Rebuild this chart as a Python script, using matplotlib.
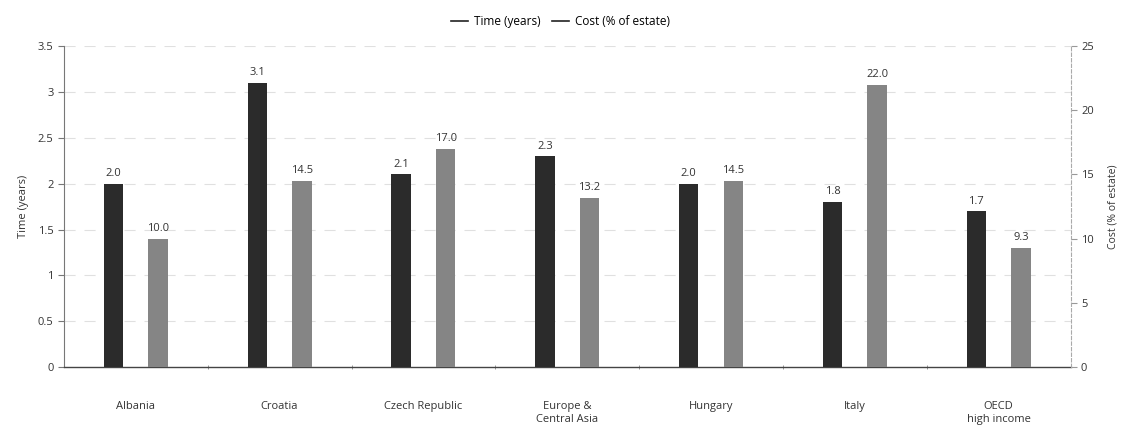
import matplotlib
matplotlib.use("Agg")
import matplotlib.pyplot as plt
from matplotlib.lines import Line2D
import numpy as np

plt.rcParams['font.family'] = ['Open Sans', 'DejaVu Sans']

categories = ["Albania", "Croatia", "Czech Republic", "Europe &\nCentral Asia",
              "Hungary", "Italy", "OECD\nhigh income"]
time_years = [2.0, 3.1, 2.1, 2.3, 2.0, 1.8, 1.7]
cost_pct = [10.0, 14.5, 17.0, 13.2, 14.5, 22.0, 9.3]
left_ticks = [0, 0.5, 1, 1.5, 2, 2.5, 3, 3.5]
left_ticklabels = ["0", "0.5", "1", "1.5", "2", "2.5", "3", "3.5"]
right_ticks = [0, 5, 10, 15, 20, 25]

fig = plt.figure(figsize=(11.21, 4.26), dpi=100)
ax = fig.add_axes([0.057, 0.138, 0.898, 0.754])
ax2 = ax.twinx()

x = np.arange(len(categories))
w = 0.135
off = 0.155
dark = "#2b2b2b"
grey = "#858585"
txt = "#333333"

ax.set_ylim(0, 3.5)
ax2.set_ylim(0, 25)
ax.set_xlim(-0.5, len(categories) - 0.5)

for yv in left_ticks[1:]:
    ax.axhline(yv, color="#e0e0e0", lw=0.8, ls=(0, (10, 8)), zorder=0)

ax.bar(x - off, time_years, width=w, color=dark, zorder=3)
ax2.bar(x + off, cost_pct, width=w, color=grey, zorder=3)

for xi, v in zip(x, time_years):
    ax.text(xi - off, v + 0.05, f"{v:.1f}", ha="center", va="bottom",
            fontsize=8, color=txt)
for xi, v in zip(x, cost_pct):
    ax2.text(xi + off, v + 0.35, f"{v:.1f}", ha="center", va="bottom",
             fontsize=8, color=txt)

ax.set_yticks(left_ticks)
ax.set_yticklabels(left_ticklabels)
ax2.set_yticks(right_ticks)
ax.set_xticks(x)
ax.set_xticklabels(categories, fontsize=8, color=txt, linespacing=1.3)
ax.tick_params(axis="x", length=0, pad=24)
ax.set_xticks(np.arange(len(categories) - 1) + 0.5, minor=True)
ax.tick_params(axis="x", which="minor", length=3, color="#888888", direction="inout")
ax.tick_params(axis="y", labelsize=8, colors=txt, length=4, color="#777777", width=0.8)
ax2.tick_params(axis="y", labelsize=8, colors=txt, length=4, color="#999999", width=0.8)

for a in (ax, ax2):
    a.spines["top"].set_visible(False)
ax.spines["right"].set_visible(False)
ax.spines["left"].set_color("#777777")
ax.spines["left"].set_linewidth(0.8)
ax.spines["bottom"].set_color("#444444")
ax.spines["bottom"].set_linewidth(1.0)
ax2.spines["left"].set_visible(False)
ax2.spines["bottom"].set_visible(False)
ax2.spines["right"].set_color("#aaaaaa")
ax2.spines["right"].set_linewidth(0.8)
ax2.spines["right"].set_linestyle((0, (3, 2)))

ax.set_ylabel("Time (years)", fontsize=8, color=txt, labelpad=6)
ax2.set_ylabel("Cost (% of estate)", fontsize=7.5, color=txt, labelpad=10)

handles = [Line2D([], [], color="#222222", lw=1.2),
           Line2D([], [], color="#222222", lw=1.2)]
fig.legend(handles, ["Time (years)", "Cost (% of estate)"], loc="center",
           bbox_to_anchor=(0.5, 0.95), ncol=2, frameon=False, fontsize=8.5,
           handlelength=1.4, handletextpad=0.5, columnspacing=1.0)

fig.savefig("out.png", dpi=100, facecolor="white")
